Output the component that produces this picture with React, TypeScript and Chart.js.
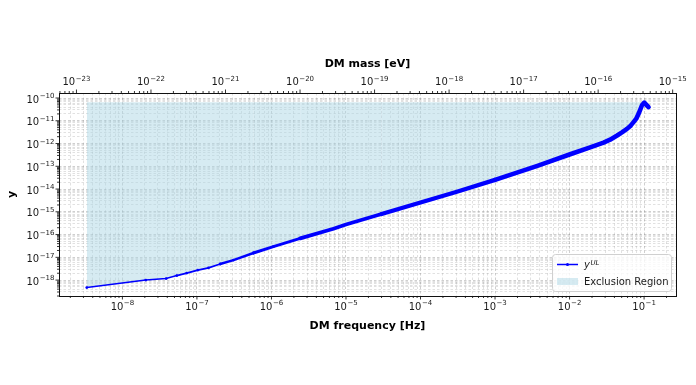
import React, { useEffect, useRef } from "react";
import { Chart, registerables } from "chart.js";

Chart.register(...registerables);

// ---- data ----
const frequencyHz = [
  3.33e-9, 2.06e-8, 3.86e-8, 5.37e-8, 7.3e-8, 1.03e-7, 1.43e-7, 2.05e-7, 3.09e-7, 5.73e-7,
  1.06e-6, 2.43e-6, 6.79e-6, 1.0e-5, 3.0e-5, 1.0e-4, 3.0e-4, 1.0e-3, 3.7e-3, 1.02e-2,
  1.89e-2, 2.86e-2, 3.5e-2, 4.35e-2, 5.05e-2, 5.89e-2, 6.6e-2, 7.22e-2, 7.85e-2, 8.43e-2,
  9.37e-2, 0.1006, 0.1148,
];
const yUpperLimit = [
  4.7e-19, 1.0e-18, 1.17e-18, 1.58e-18, 2.04e-18, 2.75e-18, 3.47e-18, 5.1e-18, 7.6e-18, 1.55e-17,
  2.95e-17, 6.8e-17, 1.8e-16, 2.75e-16, 8.0e-16, 2.57e-15, 7.5e-15, 2.53e-14, 1.05e-13, 3.38e-13,
  6.8e-13, 1.1e-12, 1.48e-12, 2.26e-12, 3.1e-12, 4.4e-12, 6.1e-12, 8.7e-12, 1.24e-11, 2.03e-11,
  4.8e-11, 6.3e-11, 4.0e-11,
];
const exclusionFreq = [3.33e-9, 0.1006];
const exclusionTop = [6.5e-11, 6.5e-11];

const freqRange = [1.41e-9, 0.268];
const yRange = [2.0e-19, 1.66e-10];
const PLANCK_EV_S = 4.135667696e-15;

const freqTickExponents = [-8, -7, -6, -5, -4, -3, -2, -1];
const massTickExponents = [-23, -22, -21, -20, -19, -18, -17, -16, -15];
const yTickExponents = [-18, -17, -16, -15, -14, -13, -12, -11, -10];

const xTitle = "DM frequency [Hz]";
const x2Title = "DM mass [eV]";
const yTitle = "y";
const legendLine = "y";
const legendLineSup = "UL";
const legendFill = "Exclusion Region";

// ---- helpers ----
const FONT = '"DejaVu Sans"';
const isMajor = (v: number) => {
  const l = Math.log10(v);
  return Math.abs(l - Math.round(l)) < 1e-6;
};
function logTicks(min: number, max: number) {
  const out: { value: number; major: boolean }[] = [];
  const lo = Math.floor(Math.log10(min));
  const hi = Math.ceil(Math.log10(max));
  for (let e = lo; e <= hi; e++) {
    for (let m = 1; m <= 9; m++) {
      const v = m * Math.pow(10, e);
      if (v >= min * (1 - 1e-9) && v <= max * (1 + 1e-9)) out.push({ value: v, major: m === 1 });
    }
  }
  return out;
}
const GRID_MAJOR = "rgba(120,120,120,0.45)";
const GRID_MINOR = "rgba(140,140,140,0.33)";
const gridColor = (c: any) => (c.tick && isMajor(c.tick.value) ? GRID_MAJOR : GRID_MINOR);

const BLUE = "#0000ff";
const FILL = "rgba(173,216,230,0.5)";
const LABEL_COLOR = "#1a1a1a";

function drawPow(ctx: CanvasRenderingContext2D, exp: number, x: number, baseline: number, align: "center" | "right") {
  const base = "10";
  const sup = (exp < 0 ? "\u2212" : "") + String(Math.abs(exp));
  ctx.font = `10px ${FONT}`;
  const bw = ctx.measureText(base).width;
  ctx.font = `7px ${FONT}`;
  const sw = ctx.measureText(sup).width;
  const total = bw + 0.5 + sw;
  const x0 = align === "center" ? x - total / 2 : x - total;
  ctx.fillStyle = LABEL_COLOR;
  ctx.textAlign = "left";
  ctx.textBaseline = "alphabetic";
  ctx.font = `10px ${FONT}`;
  ctx.fillText(base, x0, baseline);
  ctx.font = `7px ${FONT}`;
  ctx.fillText(sup, x0 + bw + 0.5, baseline - 4.3);
}

const decorPlugin = {
  id: "decor",
  afterDraw(chart: any) {
    const ctx = chart.ctx as CanvasRenderingContext2D;
    const { left, right, top, bottom } = chart.chartArea;
    ctx.save();
    // tick marks
    ctx.strokeStyle = "#000";
    ctx.lineWidth = 0.8;
    const drawTicks = (id: string) => {
      const s = chart.scales[id];
      for (const t of s.ticks) {
        const p = s.getPixelForValue(t.value);
        const len = isMajor(t.value) ? 3.5 : 2;
        ctx.beginPath();
        if (id === "x") {
          if (p < left - 0.5 || p > right + 0.5) continue;
          ctx.moveTo(p, bottom);
          ctx.lineTo(p, bottom + len);
        } else if (id === "x2") {
          if (p < left - 0.5 || p > right + 0.5) continue;
          ctx.moveTo(p, top);
          ctx.lineTo(p, top - len);
        } else {
          if (p < top - 0.5 || p > bottom + 0.5) continue;
          ctx.moveTo(left, p);
          ctx.lineTo(left - len, p);
        }
        ctx.stroke();
      }
    };
    drawTicks("x");
    drawTicks("x2");
    drawTicks("y");

    // tick labels (10^n with real superscripts)
    for (const e of freqTickExponents) {
      const p = chart.scales.x.getPixelForValue(Math.pow(10, e));
      drawPow(ctx, e, p, bottom + 13.5, "center");
    }
    for (const e of massTickExponents) {
      const p = chart.scales.x2.getPixelForValue(Math.pow(10, e));
      drawPow(ctx, e, p, top - 8, "center");
    }
    for (const e of yTickExponents) {
      const p = chart.scales.y.getPixelForValue(Math.pow(10, e));
      drawPow(ctx, e, left - 4.5, p + 4.5, "right");
    }

    // frame
    ctx.lineWidth = 1;
    ctx.strokeStyle = "#111";
    ctx.strokeRect(Math.round(left) + 0.5, Math.round(top) + 0.5, Math.round(right - left), Math.round(bottom - top));

    // legend
    const w = 119;
    const h = 37;
    const lx = right - 5 - w;
    const ly = bottom - 5 - h;
    ctx.beginPath();
    (ctx as any).roundRect(lx + 0.5, ly + 0.5, w, h, 3);
    ctx.fillStyle = "rgba(255,255,255,0.8)";
    ctx.fill();
    ctx.strokeStyle = "#d0d0d0";
    ctx.lineWidth = 1;
    ctx.stroke();

    const r1 = ly + 10.5;
    ctx.strokeStyle = BLUE;
    ctx.lineWidth = 1.5;
    ctx.beginPath();
    ctx.moveTo(lx + 5, r1);
    ctx.lineTo(lx + 26, r1);
    ctx.stroke();
    ctx.fillStyle = BLUE;
    ctx.beginPath();
    ctx.arc(lx + 15.5, r1, 1.5, 0, Math.PI * 2);
    ctx.fill();

    ctx.fillStyle = LABEL_COLOR;
    ctx.textBaseline = "alphabetic";
    ctx.textAlign = "left";
    ctx.font = `oblique 10px ${FONT}`;
    ctx.fillText(legendLine, lx + 32, r1 + 3.2);
    const yw = ctx.measureText(legendLine).width;
    ctx.font = `oblique 7px ${FONT}`;
    ctx.fillText(legendLineSup, lx + 32 + yw + 0.5, r1 + 0.5);

    const r2 = ly + 27;
    ctx.fillStyle = FILL;
    ctx.fillRect(lx + 5, r2 - 3, 21, 7);
    ctx.fillStyle = LABEL_COLOR;
    ctx.font = `10px ${FONT}`;
    ctx.fillText(legendFill, lx + 32, r2 + 3.6);
    ctx.restore();
  },
};

export default function App() {
  const ref = useRef<HTMLCanvasElement | null>(null);
  useEffect(() => {
    if (!ref.current) return;
    const curve = frequencyHz.map((x, i) => ({ x, y: yUpperLimit[i] }));
    const top = exclusionFreq.map((x, i) => ({ x, y: exclusionTop[i] }));
    const titleFont = { family: FONT, size: 11, weight: "bold" as const };
    const noLabel = () => "";
    const chart = new Chart(ref.current, {
      type: "line",
      data: {
        datasets: [
          {
            label: "yUL",
            data: curve,
            borderColor: BLUE,
            backgroundColor: BLUE,
            borderWidth: 1.5,
            pointRadius: 1.4,
            pointBorderWidth: 0,
            pointBackgroundColor: BLUE,
            fill: false,
            tension: 0,
            borderJoinStyle: "round",
            borderCapStyle: "round",
            segment: {
              borderWidth: (c: any) => {
                const x = c.p0.parsed.x;
                if (x < 4e-8) return 1.5;
                if (x < 1.5e-7) return 1.8;
                if (x < 4e-7) return 2.4;
                if (x < 1.5e-6) return 3;
                if (x < 2e-5) return 3.7;
                if (x < 1e-3) return 4.2;
                return 4.6;
              },
            },
          },
          {
            label: "Exclusion Region",
            data: top,
            borderWidth: 0,
            borderColor: "rgba(0,0,0,0)",
            pointRadius: 0,
            backgroundColor: FILL,
            fill: 0,
          },
        ],
      },
      options: {
        animation: false,
        responsive: false,
        devicePixelRatio: 1,
        layout: { padding: { left: 0, right: 20, top: 0, bottom: 0 } },
        plugins: { legend: { display: false }, tooltip: { enabled: false } },
        scales: {
          x: {
            type: "logarithmic",
            position: "bottom",
            min: freqRange[0],
            max: freqRange[1],
            afterBuildTicks: (s: any) => {
              s.ticks = logTicks(s.min, s.max);
            },
            afterFit: (s: any) => {
              s.height = 89;
            },
            ticks: { callback: noLabel, autoSkip: false, maxRotation: 0 },
            grid: { color: gridColor, lineWidth: 0.8, drawTicks: false },
            border: { display: false, dash: [2.5, 2] },
            title: { display: true, text: xTitle, font: titleFont, color: "#000", padding: { top: 0, bottom: 52 } },
          },
          x2: {
            type: "logarithmic",
            position: "top",
            min: freqRange[0] * PLANCK_EV_S,
            max: freqRange[1] * PLANCK_EV_S,
            afterBuildTicks: (s: any) => {
              s.ticks = logTicks(s.min, s.max);
            },
            afterFit: (s: any) => {
              s.height = 93;
            },
            ticks: { callback: noLabel, autoSkip: false, maxRotation: 0 },
            grid: { drawOnChartArea: false, drawTicks: false },
            border: { display: false },
            title: { display: true, text: x2Title, font: titleFont, color: "#000", padding: { top: 58, bottom: 0 } },
          },
          y: {
            type: "logarithmic",
            position: "left",
            min: yRange[0],
            max: yRange[1],
            afterBuildTicks: (s: any) => {
              s.ticks = logTicks(s.min, s.max);
            },
            afterFit: (s: any) => {
              s.width = 59;
            },
            ticks: { callback: noLabel, autoSkip: false },
            grid: { color: gridColor, lineWidth: 0.8, drawTicks: false },
            border: { display: false, dash: [2.5, 2] },
            title: { display: true, text: yTitle, font: titleFont, color: "#000", padding: { top: 6, bottom: 0 } },
          },
        },
      },
      plugins: [decorPlugin],
    } as any);
    return () => chart.destroy();
  }, []);
  return (
    <div style={{ position: "absolute", left: 0, top: 0, width: 696, height: 385, background: "#fff" }}>
      <canvas ref={ref} width={696} height={385} style={{ display: "block", width: 696, height: 385 }} />
    </div>
  );
}
